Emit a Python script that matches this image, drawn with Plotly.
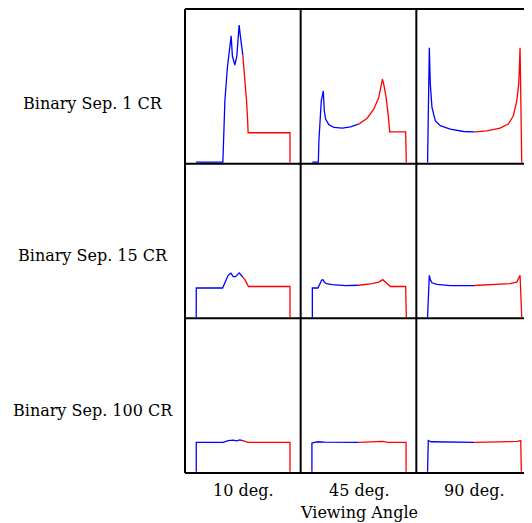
import numpy as np
import plotly.graph_objects as go
from plotly.subplots import make_subplots

# Row labels (binary separation) and column labels (viewing angle)
row_labels = ["Binary Sep. 1 CR", "Binary Sep. 15 CR", "Binary Sep. 100 CR"]
col_labels = ["10 deg.", "45 deg.", "90 deg."]
x_title = "Viewing Angle"

# Line profiles: normalized velocity (x) and relative flux (y)
# Row 1: separation 1 CR
x_1_10 = [-1.0, -0.426, -0.404, -0.383, -0.330, -0.277, -0.249, -0.223, -0.191, -0.170, -0.128, -0.096, -0.079, -0.053, -0.028, 0.0, 0.043, 0.079, 0.100, 0.113, 1.006, 1.006]
y_1_10 = [0.05, 0.05, 1.06, 2.03, 3.10, 3.87, 4.13, 3.48, 3.26, 3.19, 3.48, 4.13, 4.48, 4.13, 3.87, 3.50, 2.77, 2.03, 1.48, 1.0, 1.0, 0.04]
x_1_45 = [-0.985, -0.857, -0.845, -0.823, -0.794, -0.751, -0.730, -0.702, -0.632, -0.526, -0.347, -0.170, 0.006, 0.185, 0.326, 0.432, 0.483, 0.511, 0.538, 0.589, 0.632, 0.666, 1.006, 1.02]
y_1_45 = [0.05, 0.05, 0.74, 1.48, 2.03, 2.35, 1.71, 1.44, 1.26, 1.17, 1.15, 1.19, 1.28, 1.47, 1.76, 2.14, 2.46, 2.73, 2.57, 2.14, 1.60, 1.03, 1.03, 0.04]
x_1_90 = [-0.994, -0.957, -0.936, -0.900, -0.830, -0.723, -0.511, -0.228, 0.021, 0.270, 0.553, 0.730, 0.836, 0.909, 0.951, 0.979, 1.015]
y_1_90 = [0.04, 3.75, 2.57, 1.82, 1.39, 1.23, 1.12, 1.04, 1.03, 1.06, 1.15, 1.28, 1.55, 2.03, 2.57, 3.75, 0.04]
# Row 2: separation 15 CR
x_15_10 = [-0.994, -0.994, -0.432, -0.383, -0.313, -0.255, -0.206, -0.155, -0.079, -0.015, 0.043, 0.100, 0.121, 1.006, 1.006]
y_15_10 = [0.04, 0.98, 0.98, 1.17, 1.39, 1.46, 1.35, 1.35, 1.47, 1.36, 1.25, 1.09, 1.03, 1.03, 0.04]
x_15_45 = [-0.985, -0.985, -0.866, -0.830, -0.787, -0.760, -0.730, -0.687, -0.560, -0.277, 0.006, 0.291, 0.432, 0.517, 0.574, 0.645, 0.681, 1.006, 1.02]
y_15_45 = [0.04, 0.98, 0.98, 1.12, 1.23, 1.25, 1.17, 1.12, 1.09, 1.06, 1.07, 1.12, 1.17, 1.25, 1.17, 1.06, 1.03, 1.03, 0.04]
x_15_90 = [-0.994, -0.957, -0.936, -0.900, -0.794, -0.511, -0.015, 0.483, 0.766, 0.909, 0.979, 1.015]
y_15_90 = [0.04, 1.39, 1.25, 1.15, 1.10, 1.06, 1.06, 1.09, 1.12, 1.17, 1.39, 0.04]
# Row 3: separation 100 CR
x_100_10 = [-0.994, -0.994, -0.419, -0.313, -0.206, -0.134, -0.064, 0.043, 0.113, 1.006, 1.006]
y_100_10 = [0.04, 0.99, 0.99, 1.05, 1.06, 1.04, 1.07, 1.03, 0.99, 0.99, 0.04]
x_100_45 = [-0.994, -0.994, -0.936, -0.866, -0.723, -0.015, 0.517, 0.623, 1.015, 1.015]
y_100_45 = [0.04, 0.97, 0.99, 1.01, 1.00, 0.99, 1.02, 0.99, 0.99, 0.04]
x_100_90 = [-0.994, -0.979, -0.921, -0.496, 0.0, 0.638, 0.921, 0.994, 1.006]
y_100_90 = [0.04, 1.05, 1.01, 1.00, 0.99, 1.00, 1.02, 1.05, 0.04]

profiles = [
    [(x_1_10, y_1_10), (x_1_45, y_1_45), (x_1_90, y_1_90)],
    [(x_15_10, y_15_10), (x_15_45, y_15_45), (x_15_90, y_15_90)],
    [(x_100_10, y_100_10), (x_100_45, y_100_45), (x_100_90, y_100_90)],
]


def split_at_zero(xs, ys):
    xs = np.asarray(xs, float)
    ys = np.asarray(ys, float)
    for i in range(len(xs) - 1):
        if xs[i] <= 0 <= xs[i + 1] and xs[i + 1] != xs[i]:
            t = (0 - xs[i]) / (xs[i + 1] - xs[i])
            y0 = ys[i] + t * (ys[i + 1] - ys[i])
            bx = list(xs[:i + 1]) + [0.0]
            by = list(ys[:i + 1]) + [y0]
            rx = [0.0] + list(xs[i + 1:])
            ry = [y0] + list(ys[i + 1:])
            return bx, by, rx, ry
    return list(xs), list(ys), [], []


fig = make_subplots(rows=3, cols=3, horizontal_spacing=0, vertical_spacing=0)

for r in range(3):
    for c in range(3):
        xs, ys = profiles[r][c]
        bx, by, rx, ry = split_at_zero(xs, ys)
        fig.add_trace(go.Scatter(x=bx, y=by, mode="lines",
                                 line=dict(color="#0000ff", width=1.3),
                                 showlegend=False, hoverinfo="skip"),
                      row=r + 1, col=c + 1)
        fig.add_trace(go.Scatter(x=rx, y=ry, mode="lines",
                                 line=dict(color="#ff0000", width=1.3),
                                 showlegend=False, hoverinfo="skip"),
                      row=r + 1, col=c + 1)

fig.update_xaxes(range=[-1.234, 1.234], showticklabels=False, ticks="",
                 showgrid=False, zeroline=False, showline=False)
fig.update_yaxes(range=[0, 5], showticklabels=False, ticks="",
                 showgrid=False, zeroline=False, showline=False)

# Panel frame (no right edge, as in the reference)
line_style = dict(color="black", width=2)
shapes = []
for yy in [0, 1 / 3, 2 / 3, 1]:
    shapes.append(dict(type="line", xref="paper", yref="paper", x0=0, x1=1,
                       y0=yy, y1=yy, line=line_style))
for xx in [0, 1 / 3, 2 / 3]:
    shapes.append(dict(type="line", xref="paper", yref="paper", x0=xx, x1=xx,
                       y0=0, y1=1, line=line_style))

FONT = dict(family="DejaVu Serif", size=16, color="black")
annotations = []
row_y = [0.797, 0.469, 0.135]
for lab, yy in zip(row_labels, row_y):
    annotations.append(dict(text=lab, xref="paper", yref="paper", x=-0.265, y=yy,
                            xanchor="center", yanchor="middle", showarrow=False, font=FONT))
col_x = [1 / 6, 0.5, 5 / 6]
for lab, xx in zip(col_labels, col_x):
    annotations.append(dict(text=lab, xref="paper", yref="paper", x=xx, y=-0.0378,
                            xanchor="center", yanchor="middle", showarrow=False, font=FONT))
annotations.append(dict(text=x_title, xref="paper", yref="paper", x=0.5, y=-0.086,
                        xanchor="center", yanchor="middle", showarrow=False, font=FONT))

fig.update_layout(width=524, height=515, autosize=False,
                  margin=dict(l=177, r=0, t=1, b=50),
                  paper_bgcolor="white", plot_bgcolor="white",
                  shapes=shapes, annotations=annotations)

fig.write_html("out.html")
